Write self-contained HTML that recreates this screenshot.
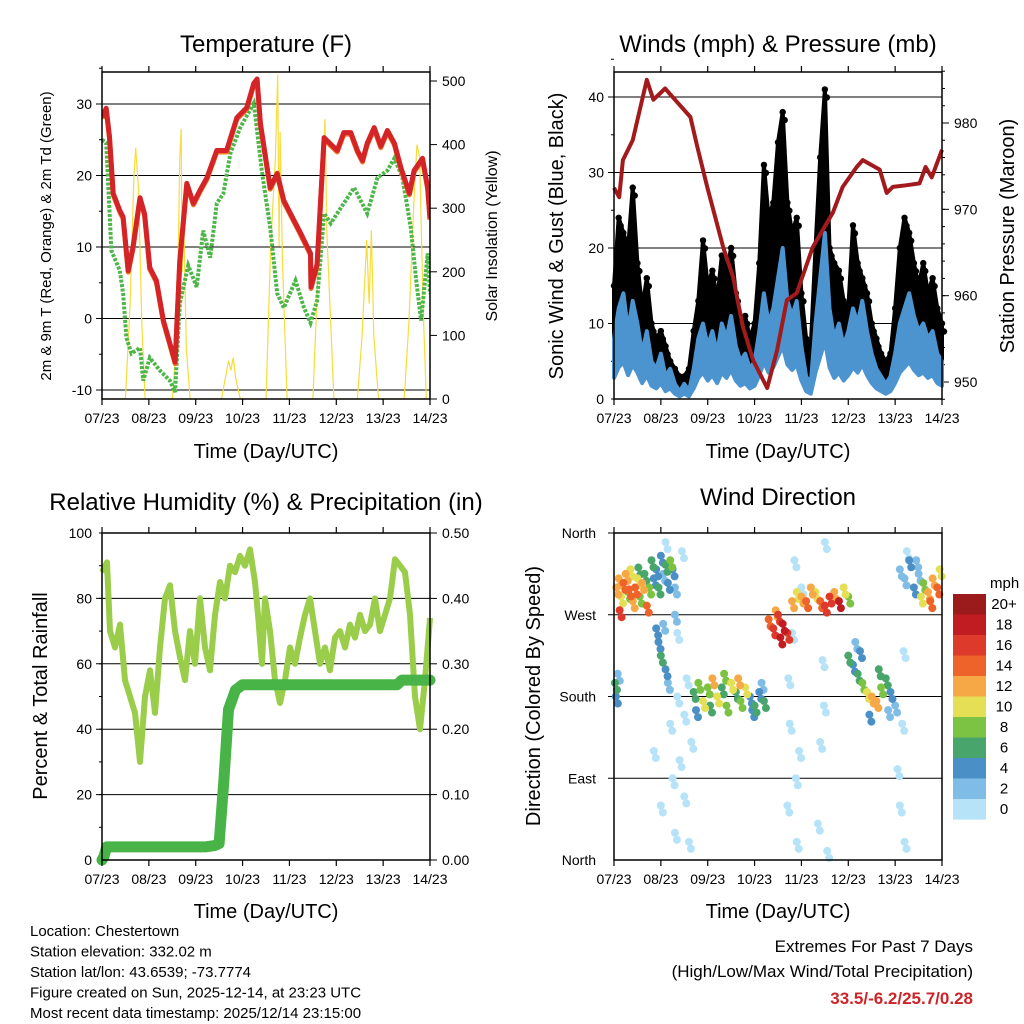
<!DOCTYPE html>
<html><head><meta charset="utf-8"><style>
body{margin:0;background:#fff}
svg{display:block;font-family:"Liberation Sans",sans-serif}
</style></head><body>
<svg id="s" width="1024" height="1024" viewBox="0 0 1024 1024">
<g id="g"></g>
</svg>
<script>
// ---- Temperature panel data (day offset from 07/23, deg F) ----
const tempDays=[0,0.09,0.16,0.24,0.38,0.45,0.56,0.66,0.81,0.91,1.02,1.16,1.31,1.45,1.56,1.66,1.81,1.95,2.09,2.24,2.45,2.66,2.88,3.09,3.24,3.31,3.38,3.59,3.74,3.88,4.02,4.24,4.45,4.46,4.59,4.74,5.02,5.16,5.31,5.45,5.56,5.66,5.81,5.95,6.09,6.24,6.38,6.56,6.66,6.84,6.95,7.0];
const tempVals=[28.2,29.4,25.4,17.5,15.1,14.2,6.7,9.9,16.9,14.6,7.1,5.3,-0.3,-3.5,-6.1,8.1,18.9,16.1,17.9,19.7,23.5,23.5,28.1,29.5,32.9,33.5,27.3,18.3,20.3,16.5,14.7,11.9,9.1,4.4,7.6,25.3,23.5,26.0,26.0,23.5,22.1,24.5,26.7,24.1,26.3,24.5,21.1,17.5,20.7,22.4,18.3,14.0];
const dewDays=[0,0.09,0.2,0.38,0.45,0.52,0.63,0.81,0.88,1.02,1.24,1.45,1.56,1.66,1.84,2.02,2.16,2.31,2.45,2.59,2.74,2.95,3.24,3.41,3.59,3.74,3.88,4.13,4.31,4.45,4.59,4.74,4.88,5.16,5.38,5.66,5.88,6.09,6.24,6.41,6.59,6.7,6.81,6.95,7.0];
const dewVals=[25,24.6,9.5,6.7,3.5,-2.7,-4.9,-4.1,-8.7,-5.5,-7.3,-8.7,-10.3,2.1,7.4,4.4,12.3,8.5,16.1,17.5,23.1,26.7,30.1,20.7,12.7,3.5,1.5,5.3,1.5,-0.6,2.5,14.7,13.3,16.1,18.3,14.7,19.7,20.7,22.4,19.7,12.7,5.7,-0.3,9.1,3.5];
const solarDays=[0,0.5,0.6,0.68,0.72,0.78,0.85,0.92,1.5,1.6,1.66,1.69,1.71,1.74,1.8,1.88,2.55,2.65,2.7,2.75,2.8,2.85,2.95,3.5,3.6,3.7,3.75,3.78,3.8,3.85,3.95,4.5,4.6,4.7,4.76,4.8,4.88,4.95,5.45,5.55,5.65,5.7,5.75,5.8,5.9,6.45,6.55,6.65,6.72,6.78,6.85,6.92,7.0];
const solarVals=[0,0,150,350,395,330,120,0,0,100,380,425,200,300,80,0,0,40,60,45,65,35,0,0,240,380,510,240,420,220,0,0,180,330,440,260,120,0,0,100,250,150,265,100,0,0,120,300,400,380,150,0,0];
// ---- Winds panel data (0.1-day steps, mph) ----
const windVals=[8,12,14,9,13,10,6,9,5,4,6,3,4,2,1,2,1,4,8,10,7,9,6,10,8,11,7,5,6,4,5,9,14,10,12,16,20,13,11,13,7,3,2,10,16,22,12,8,10,7,9,12,10,13,9,6,4,3,2,3,6,10,12,14,11,9,10,8,9,6,5];
const gustVals=[15,24,22,20,28,18,12,16,10,8,9,7,5,4,3,3,4,9,13,21,15,17,13,19,17,20,14,10,11,8,10,18,31,24,26,34,38,26,22,24,14,8,7,20,32,41,20,18,17,13,12,23,18,16,14,10,8,6,5,6,12,20,24,22,18,15,18,14,16,12,10];
const presDays=[0,0.11,0.19,0.4,0.7,0.84,1.09,1.35,1.63,1.78,1.99,2.33,2.54,2.75,2.97,3.27,3.48,3.69,3.9,4.24,4.67,4.88,5.18,5.31,5.67,5.82,5.95,6.25,6.52,6.65,6.78,7.0];
const presVals=[972.5,971.4,975.7,978,985,982.7,984,982.4,980.7,977.2,972.6,965.6,962.2,956.4,952.5,949.3,953.7,959.5,960.3,965.6,969.6,972.6,974.9,975.7,974.6,971.9,972.6,972.8,973,974.9,973.7,976.9];
// ---- RH / precip ----
const rhX=[102,107,110,115,120,125,130,135,140,145,150,155,160,165,170,175,180,185,190,195,200,205,210,215,220,225,230,235,240,245,250,255,258,262,265,270,275,280,285,290,295,300,305,310,315,320,325,330,335,340,345,350,355,360,365,370,375,380,385,390,395,400,405,410,415,420,425,430];
const rhVals=[88,91,70,65,72,55,50,45,30,50,58,45,65,80,84,70,62,55,70,60,80,65,58,75,85,80,90,88,93,90,95,85,75,60,80,70,55,48,55,65,60,68,75,80,70,60,65,58,68,70,65,72,68,75,70,72,80,70,75,80,92,90,88,75,50,40,55,74];
const precipDays=[0,0.04,0.1,2.2,2.4,2.5,2.6,2.7,2.85,3.0,6.3,6.4,7.0];
const precipVals=[0,0.005,0.02,0.02,0.022,0.025,0.12,0.23,0.26,0.268,0.268,0.275,0.275];
// ---- Wind direction scatter ----
const wdT=[0.05,0.1,0.15,0.2,0.25,0.3,0.35,0.4,0.45,0.5,0.55,0.6,0.65,0.7,0.75,0.12,0.32,0.52,0.02,0.04,0.08,
0.8,0.85,0.9,0.95,1.0,1.05,1.1,1.15,1.2,1.25,1.3,0.9,0.95,1.0,1.05,1.1,1.15,1.3,
0.85,1.0,1.1,1.2,1.25,1.3,1.35,1.4,1.45,1.5,1.55,1.6,1.65,1.35,1.5,
1.7,1.8,1.9,2.0,2.1,2.2,2.3,2.4,2.5,2.6,2.7,2.8,2.9,3.0,3.1,3.2,1.75,2.05,2.35,2.65,2.95,3.15,
3.7,3.75,3.8,3.85,3.9,3.95,4.0,3.72,3.88,
3.3,3.4,3.5,3.6,3.7,3.45,3.55,3.8,3.9,4.0,4.1,4.2,4.3,4.4,4.5,4.6,4.7,4.8,4.9,5.0,
4.35,4.4,4.45,4.5,4.55,4.48,
5.0,5.1,5.2,5.3,5.4,5.5,5.6,5.7,5.8,5.9,6.0,5.25,5.45,5.65,5.85,5.15,
6.1,6.2,6.3,6.4,6.5,6.6,6.7,6.8,6.9,6.95,6.55,6.75,6.45,6.25,
6.05,6.1,6.15,6.2,6.18];
const wdDir=[300,310,290,305,315,295,320,285,300,310,290,305,315,280,300,275,298,322,195,180,205,
330,310,320,300,335,315,325,305,330,320,300,255,240,225,260,210,195,270,
120,60,350,150,90,30,180,110,340,70,200,20,130,250,160,
185,195,175,190,200,180,190,170,195,185,175,190,180,170,185,175,165,170,205,200,165,195,
60,150,250,330,20,120,300,200,90,
265,255,270,260,250,275,245,285,295,290,285,300,295,285,280,290,295,285,300,290,
40,130,220,350,10,170,
225,215,205,195,185,180,175,190,200,185,170,230,160,210,165,240,
320,310,330,300,315,305,295,310,300,320,290,285,330,340,
100,60,150,20,230];
const wdSpd=[12,13,11,14,12,9,10,13,15,11,8,12,7,14,9,16,15,6,7,4,3,
6,5,4,7,5,3,6,4,8,5,3,5,4,6,3,4,3,2,
1,1,1,1,1,1,1,1,1,1,1,1,1,1,1,
7,9,11,8,12,10,7,9,11,6,8,10,5,7,4,6,5,6,9,13,4,3,
1,1,1,1,1,1,1,1,1,
15,17,16,18,17,13,19,12,11,13,14,12,10,15,17,16,13,18,11,9,
1,1,1,1,1,1,
7,5,6,8,10,13,12,9,6,4,3,4,5,7,3,3,
3,2,4,5,3,9,13,12,15,10,11,14,2,1,
1,1,1,1,1];
const speedLabels=["20+","18","16","14","12","10","8","6","4","2","0"];
const speedColors=["#9b1a1c","#c21c23","#de3a2b","#ee6329","#f6a847","#e5df56","#7cc243","#48a66c","#4a8fc6","#80bde6","#b6e3f8"];
const dayLabels=["07/23","08/23","09/23","10/23","11/23","12/23","13/23","14/23"];

const NS="http://www.w3.org/2000/svg";
const G=document.getElementById('g');
function mk(t,a,p){const e=document.createElementNS(NS,t);for(const k in a)e.setAttribute(k,a[k]);(p||G).appendChild(e);return e;}
function txt(x,y,s,size,anchor,extra){const e=mk('text',Object.assign({x:x,y:y,'font-size':size,'text-anchor':anchor||'middle',fill:'#000'},extra||{}));e.textContent=s;return e;}

const L1=102,R1=430,L2=614,R2=942,T1=72,B1=399,T2=533,B2=860;
function xs(L,R){return d=>L+(R-L)*d/7;}
function lin(v0,y0,v1,y1){return v=>y0+(v-v0)*(y1-y0)/(v1-v0);}

function frame(L,R,T,B,name){
  const f=mk('rect',{x:L,y:T,width:R-L,height:B-T,fill:'none',stroke:'#000','stroke-width':1.5});
  
  
  const X=xs(L,R);
  for(let i=0;i<8;i++){
    const x=X(i);
    mk('line',{x1:x,x2:x,y1:B,y2:B+6,stroke:'#000','stroke-width':1.2});
    mk('line',{x1:x,x2:x,y1:T,y2:T-6,stroke:'#000','stroke-width':1.2});
    const t=txt(x,B+24,dayLabels[i],14);
    
    
  }
}
function hgrid(L,R,y){mk('line',{x1:L-6,x2:R,y1:y,y2:y,stroke:'#000','stroke-width':1});}
function path(pts){return pts.map((p,i)=>(i?'L':'M')+p[0].toFixed(1)+','+p[1].toFixed(1)).join('');}

// ============ Panel 1: Temperature ============
(function(){
  const X=xs(L1,R1), Y=lin(0,318.5,30,104), YS=lin(0,B1,500,81);
  [-10,0,10,20,30].forEach(v=>{hgrid(L1,R1,Y(v));const t=txt(L1-10,Y(v)+5,String(v),14,'end');
    });
  for(let v=-10;v<=35;v+=5)mk('line',{x1:L1-3,x2:L1,y1:Y(v),y2:Y(v),stroke:'#000'});
  [0,100,200,300,400,500].forEach(v=>{mk('line',{x1:R1,x2:R1+7,y1:YS(v),y2:YS(v),stroke:'#000'});
    const t=txt(R1+12,YS(v)+5,String(v),14,'start');
    });
  const clip=mk('clipPath',{id:'c1'});mk('rect',{x:L1,y:T1,width:R1-L1,height:B1-T1},clip);
  const sol=mk('path',{d:path(solarDays.map((d,i)=>[X(d),YS(solarVals[i])])),fill:'none',stroke:'#f8dc3a','stroke-width':1.2,'clip-path':'url(#c1)'});
  
  const dw=mk('path',{d:path(dewDays.map((d,i)=>[X(d),Y(dewVals[i])])),fill:'none',stroke:'#4cb648','stroke-width':4,'stroke-dasharray':'3 1.5','clip-path':'url(#c1)'});
  
  const t9=mk('path',{d:path(tempDays.map((d,i)=>[X(d),Y(tempVals[i])+1.5])),fill:'none',stroke:'#f07a2a','stroke-width':5,'stroke-linejoin':'round','clip-path':'url(#c1)'});
  
  const t2=mk('path',{d:path(tempDays.map((d,i)=>[X(d),Y(tempVals[i])])),fill:'none',stroke:'#d42427','stroke-width':5,'stroke-linejoin':'round','clip-path':'url(#c1)'});
  
  frame(L1,R1,T1,B1,'temp');
})();

// ============ Panel 2: Winds ============
(function(){
  const X=xs(L2,R2), Y=lin(0,B1,40,97), YP=lin(950,382,980,123);
  [10,20,30,40].forEach(v=>hgrid(L2,R2,Y(v)));
  [0,10,20,30,40].forEach(v=>{const t=txt(L2-10,Y(v)+5,String(v),14,'end');
    });
  for(let v=0;v<=45;v+=5)mk('line',{x1:L2-3,x2:L2,y1:Y(v),y2:Y(v),stroke:'#000'});
  [950,960,970,980].forEach(v=>{mk('line',{x1:R2,x2:R2+7,y1:YP(v),y2:YP(v),stroke:'#000'});
    const t=txt(R2+12,YP(v)+5,String(v),14,'start');
    });
  for(let v=948;v<=986;v+=2)mk('line',{x1:R2,x2:R2+3,y1:YP(v),y2:YP(v),stroke:'#000'});
  const gg=mk('g',{});
  const up=gustVals.map((g,i)=>[X(i*0.1),Y(g)]);
  const lo=windVals.map((w,i)=>[X(i*0.1),Y(w)]).reverse();
  mk('path',{d:path(up.concat(lo))+'Z',fill:'#000',stroke:'#000','stroke-width':4,'stroke-linejoin':'round'},gg);
  up.forEach(p=>{mk('circle',{cx:p[0],cy:p[1],r:3.2,fill:'#000'},gg);
    mk('circle',{cx:p[0]+2,cy:p[1]+8,r:3.2,fill:'#000'},gg);});
  const wup=windVals.map((w,i)=>[X(i*0.1),Y(w)]);
  const wlo=windVals.map((w,i)=>[X(i*0.1),Y(w*0.35)]).reverse();
  const wl=mk('path',{d:path(wup.concat(wlo))+'Z',fill:'#4b94d0',stroke:'#4b94d0','stroke-width':4,'stroke-linejoin':'round'});
  
  const pl=mk('path',{d:path(presDays.map((d,i)=>[X(d),YP(presVals[i])])),fill:'none',stroke:'#a31a1c','stroke-width':4,'stroke-linejoin':'round'});
  
  frame(L2,R2,T1,B1,'wind');
})();

// ============ Panel 3: RH & Precip ============
(function(){
  const X=xs(L1,R1), Y=lin(0,B2,100,T2), YR=lin(0,B2,0.5,T2);
  [20,40,60,80].forEach(v=>hgrid(L1,R1,Y(v)));
  [0,20,40,60,80,100].forEach(v=>{const t=txt(L1-10,Y(v)+5,String(v),14,'end');
    });
  for(let v=0;v<=100;v+=10)mk('line',{x1:L1-3,x2:L1,y1:Y(v),y2:Y(v),stroke:'#000'});
  [0,0.1,0.2,0.3,0.4,0.5].forEach(v=>{mk('line',{x1:R1,x2:R1+7,y1:YR(v),y2:YR(v),stroke:'#000'});
    const t=txt(R1+12,YR(v)+5,v.toFixed(2),14,'start');
    });
  const rh=mk('path',{d:path(rhX.map((x,i)=>[x,Y(rhVals[i])])),fill:'none',stroke:'#9acd4a','stroke-width':6,'stroke-linejoin':'round'});
  
  const pr=mk('path',{d:path(precipDays.map((d,i)=>[X(d),YR(precipVals[i])])),fill:'none',stroke:'#48b447','stroke-width':11,'stroke-linejoin':'round','stroke-linecap':'round'});
  
  frame(L1,R1,T2,B2,'rh');
})();

// ============ Panel 4: Wind direction ============
(function(){
  const X=xs(L2,R2), Y=lin(0,B2,360,T2);
  const names=["North","East","South","West","North"];
  [90,180,270,360].forEach(v=>hgrid(L2,R2,Y(v)));
  [0,90,180,270,360].forEach((v,i)=>{const t=txt(L2-18,Y(v)+5,names[i],14,'end');
    });
  const gg=mk('g',{});
  const order=wdT.map((_,i)=>i).sort((a,b)=>wdSpd[a]-wdSpd[b]);
  order.forEach(i=>{const b=Math.min(10,Math.floor(wdSpd[i]/2));
    const c=speedColors[10-b];
    mk('circle',{cx:X(wdT[i]),cy:Y(wdDir[i]),r:4,fill:c},gg);
    mk('circle',{cx:X(wdT[i])+2,cy:Y(wdDir[i])+7,r:4,fill:c},gg);});
  frame(L2,R2,T2,B2,'direction');
  const lg=mk('g',{});
  const t0=txt(990,588,'mph',15,'start',{});lg.appendChild(t0);
  speedColors.forEach((c,i)=>{mk('rect',{x:953,y:594+i*20.5,width:33,height:20.6,fill:c},lg);
    const t=txt(1004,609+i*20.5,speedLabels[i],15,'middle');lg.appendChild(t);});
})();

// ---- Titles ----
function T(x,y,s,size,name,rot){const e=txt(x,y,s,size,'middle',rot?{transform:'rotate(-90 '+x+' '+y+')'}:{});
  }
T(266,52,'Temperature (F)',24,'temp-title');
T(778,52,'Winds (mph) & Pressure (mb)',24,'wind-title');
T(266,510,'Relative Humidity (%) & Precipitation (in)',24,'rh-title');
T(778,505,'Wind Direction',24,'direction-title');
T(266,458,'Time (Day/UTC)',20,'temp-x-title');
T(778,458,'Time (Day/UTC)',20,'wind-x-title');
T(266,918,'Time (Day/UTC)',20,'rh-x-title');
T(778,918,'Time (Day/UTC)',20,'direction-x-title');
T(51,236,'2m & 9m T (Red, Orange) & 2m Td (Green)',15,'temp-y-title',1);
T(497,236,'Solar Insolation (Yellow)',16,'solar-y-title',1);
T(563,236,'Sonic Wind & Gust (Blue, Black)',20,'wind-y-title',1);
T(1014,236,'Station Pressure (Maroon)',20,'pressure-y-title',1);
T(47,696,'Percent & Total Rainfall',20,'rh-y-title',1);
T(540,696,'Direction (Colored By Speed)',20,'direction-y-title',1);
const info=["Location: Chestertown","Station elevation: 332.02 m","Station lat/lon: 43.6539; -73.7774","Figure created on Sun, 2025-12-14, at 23:23 UTC","Most recent data timestamp: 2025/12/14 23:15:00"];
info.forEach((s,i)=>{const e=txt(30,936+i*20.5,s,15,'start');});
let e=txt(973,952,'Extremes For Past 7 Days',17,'end');
e=txt(973,977,'(High/Low/Max Wind/Total Precipitation)',17,'end');
e=txt(973,1004,'33.5/-6.2/25.7/0.28',17,'end',{fill:'#cc2529','font-weight':'bold'});
</script>
</body></html>
